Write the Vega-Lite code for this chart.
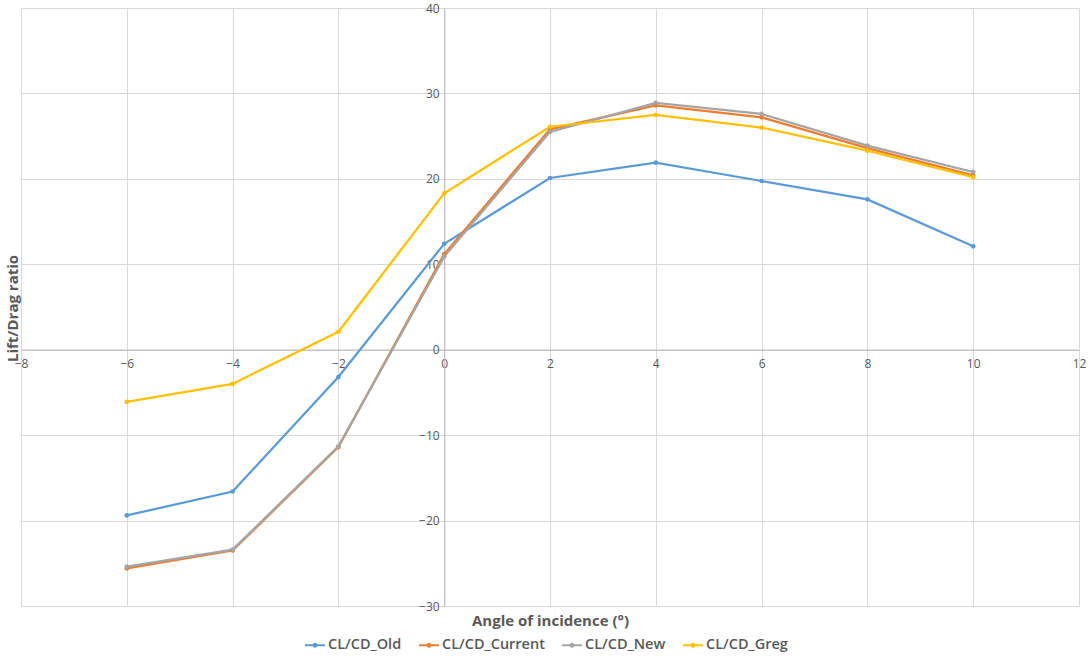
{
  "$schema": "https://vega.github.io/schema/vega-lite/v6.json",
  "width": 1058,
  "height": 598,
  "autosize": {"type": "none"},
  "padding": {"left": 21, "top": 8, "right": 9, "bottom": 51},
  "background": "white",
  "config": {
    "view": {"stroke": null},
    "font": "Open Sans",
    "axis": {"labelColor": "#595959", "titleColor": "#595959", "gridColor": "#d9d9d9", "gridWidth": 1, "domainColor": "#bfbfbf", "domainWidth": 1.2, "ticks": false, "labelFont": "Open Sans", "labelFontSize": 12, "titleFont": "Open Sans", "titleFontSize": 15, "titleFontWeight": "bold"}
  },
  "data": {
    "values": [
      {"angle": -6, "ratio": -19.4, "series": "CL/CD_Old"},
      {"angle": -4, "ratio": -16.6, "series": "CL/CD_Old"},
      {"angle": -2, "ratio": -3.2, "series": "CL/CD_Old"},
      {"angle": 0, "ratio": 12.4, "series": "CL/CD_Old"},
      {"angle": 2, "ratio": 20.1, "series": "CL/CD_Old"},
      {"angle": 4, "ratio": 21.9, "series": "CL/CD_Old"},
      {"angle": 6, "ratio": 19.75, "series": "CL/CD_Old"},
      {"angle": 8, "ratio": 17.6, "series": "CL/CD_Old"},
      {"angle": 10, "ratio": 12.1, "series": "CL/CD_Old"},
      {"angle": -6, "ratio": -25.6, "series": "CL/CD_Current"},
      {"angle": -4, "ratio": -23.5, "series": "CL/CD_Current"},
      {"angle": -2, "ratio": -11.4, "series": "CL/CD_Current"},
      {"angle": 0, "ratio": 11.2, "series": "CL/CD_Current"},
      {"angle": 2, "ratio": 25.8, "series": "CL/CD_Current"},
      {"angle": 4, "ratio": 28.6, "series": "CL/CD_Current"},
      {"angle": 6, "ratio": 27.2, "series": "CL/CD_Current"},
      {"angle": 8, "ratio": 23.6, "series": "CL/CD_Current"},
      {"angle": 10, "ratio": 20.4, "series": "CL/CD_Current"},
      {"angle": -6, "ratio": -25.4, "series": "CL/CD_New"},
      {"angle": -4, "ratio": -23.4, "series": "CL/CD_New"},
      {"angle": -2, "ratio": -11.3, "series": "CL/CD_New"},
      {"angle": 0, "ratio": 10.9, "series": "CL/CD_New"},
      {"angle": 2, "ratio": 25.5, "series": "CL/CD_New"},
      {"angle": 4, "ratio": 28.9, "series": "CL/CD_New"},
      {"angle": 6, "ratio": 27.6, "series": "CL/CD_New"},
      {"angle": 8, "ratio": 23.9, "series": "CL/CD_New"},
      {"angle": 10, "ratio": 20.8, "series": "CL/CD_New"},
      {"angle": -6, "ratio": -6.1, "series": "CL/CD_Greg"},
      {"angle": -4, "ratio": -4.0, "series": "CL/CD_Greg"},
      {"angle": -2, "ratio": 2.1, "series": "CL/CD_Greg"},
      {"angle": 0, "ratio": 18.3, "series": "CL/CD_Greg"},
      {"angle": 2, "ratio": 26.1, "series": "CL/CD_Greg"},
      {"angle": 4, "ratio": 27.5, "series": "CL/CD_Greg"},
      {"angle": 6, "ratio": 26.0, "series": "CL/CD_Greg"},
      {"angle": 8, "ratio": 23.3, "series": "CL/CD_Greg"},
      {"angle": 10, "ratio": 20.2, "series": "CL/CD_Greg"}
    ]
  },
  "mark": {"type": "line", "strokeWidth": 2.25, "point": {"filled": true, "size": 22}},
  "encoding": {
    "x": {
      "field": "angle", "type": "quantitative",
      "scale": {"domain": [-8, 12], "nice": false, "zero": false},
      "axis": {"values": [-8, -6, -4, -2, 0, 2, 4, 6, 8, 10, 12], "offset": -256.3, "labelPadding": 9, "title": "Angle of incidence (°)", "titleY": 271, "titleBaseline": "middle", "labelFlush": false}
    },
    "y": {
      "field": "ratio", "type": "quantitative",
      "scale": {"domain": [-30, 40], "nice": false},
      "axis": {"values": [-30, -20, -10, 0, 10, 20, 30, 40], "offset": -423.2, "labelPadding": 5, "title": "Lift/Drag ratio", "titleX": -432, "titleY": 300, "titleAngle": 270, "titleBaseline": "middle", "titleAlign": "center", "labelFlush": false}
    },
    "color": {
      "field": "series", "type": "nominal",
      "sort": ["CL/CD_Old", "CL/CD_Current", "CL/CD_New", "CL/CD_Greg"],
      "scale": {"domain": ["CL/CD_Old", "CL/CD_Current", "CL/CD_New", "CL/CD_Greg"], "range": ["#5B9BD5", "#ED7D31", "#A5A5A5", "#FFC000"]},
      "legend": {
        "title": null, "orient": "none", "direction": "horizontal", "columns": 4,
        "legendX": 283, "legendY": 626,
        "symbolType": "M-1,0H1M-0.15,0A0.15,0.15 0 1,0 0.15,0A0.15,0.15 0 1,0 -0.15,0",
        "symbolSize": 400, "symbolStrokeWidth": 2,
        "labelFont": "Open Sans", "labelFontSize": 14.5, "labelFontWeight": 600, "labelColor": "#595959",
        "labelOffset": 2, "columnPadding": 13
      }
    },
    "order": {"field": "angle", "type": "quantitative"}
  }
}
